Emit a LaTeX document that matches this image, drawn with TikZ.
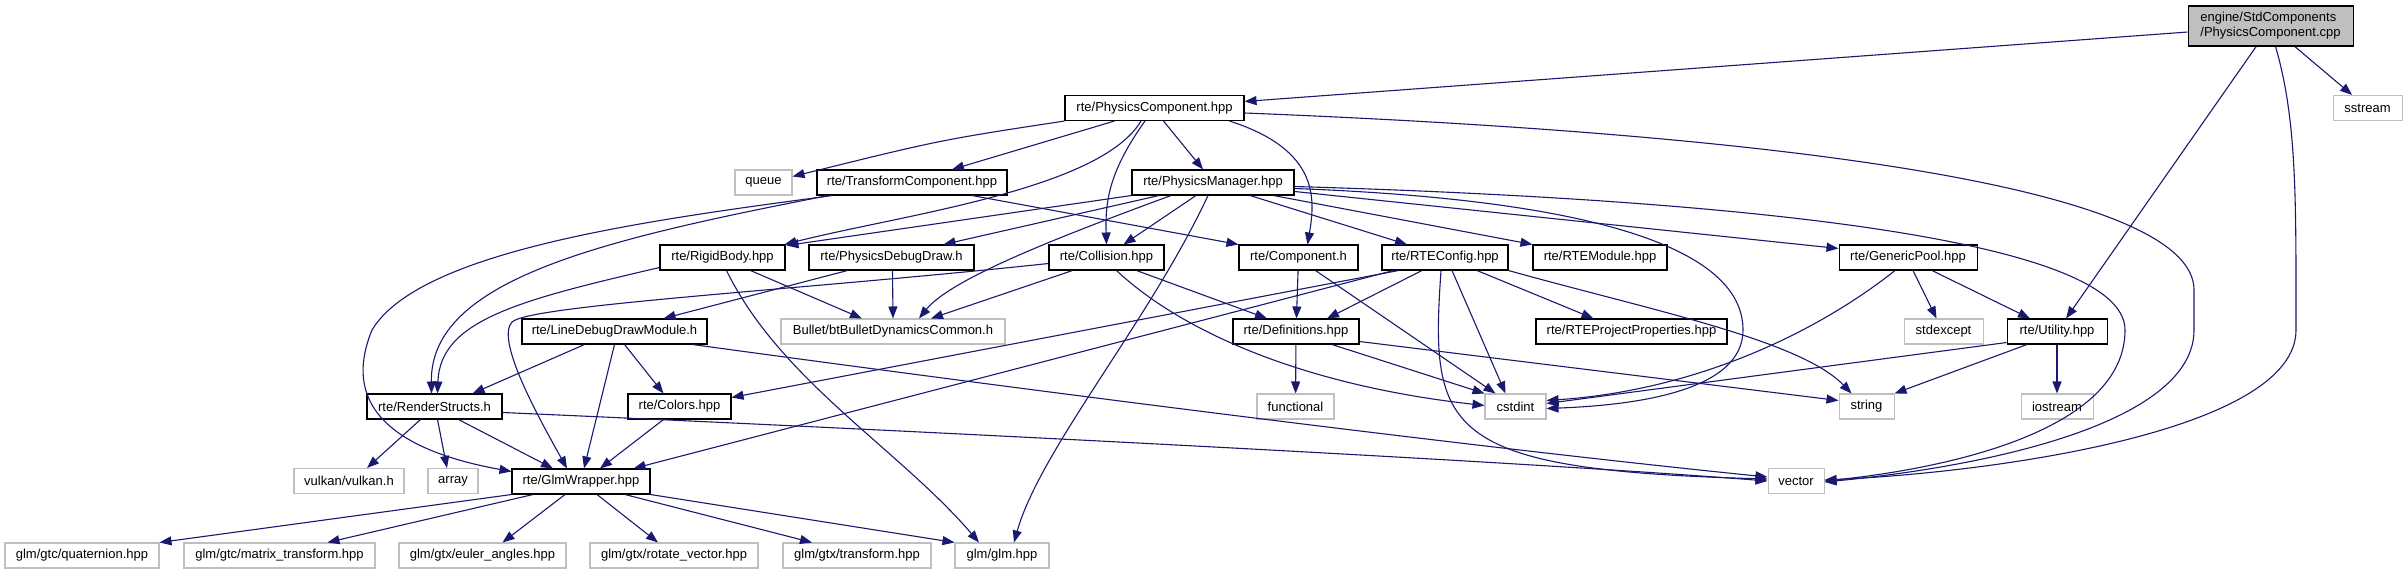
\documentclass[tikz,border=0pt]{standalone}
\usepackage{fontspec}
\setmainfont{Liberation Sans}
\usetikzlibrary{arrows.meta,calc}
\definecolor{edgecol}{RGB}{25,25,112}
\definecolor{graybox}{RGB}{191,191,191}
\begin{document}
\begin{tikzpicture}[x=1pt,y=-1pt,
 box/.style={draw=black,line width=1.05pt,fill=white,minimum height=25pt,inner sep=0pt,font=\fontsize{13}{15}\selectfont},
 ext/.style={box,draw=graybox},
 mainbox/.style={box,fill=graybox,minimum height=40pt,align=left},
 edge/.style={draw=edgecol,line width=1.1pt,-{Triangle[length=12pt,width=9pt]}}]
\fill[white] (0,0) rectangle (2408,575);
\useasboundingbox (0,0) rectangle (2408,575);
% row 0
\node[mainbox,minimum width=165pt] (main) at (2270.5,26) {engine/StdComponents\\/PhysicsComponent.cpp};
% row 1
\node[ext,minimum width=69pt] (sstream) at (2367.5,108) {sstream};
\node[box,minimum width=179pt] (pch) at (1154.5,108) {rte/PhysicsComponent.hpp};
% row 2
\node[ext,minimum width=57pt] (queue) at (763.5,182.5) {queue};
\node[box,minimum width=190pt] (tc) at (912,182.5) {rte/TransformComponent.hpp};
\node[box,minimum width=162pt] (pm) at (1213,182.5) {rte/PhysicsManager.hpp};
% row 3
\node[box,minimum width=125pt] (rb) at (722.5,257.5) {rte/RigidBody.hpp};
\node[box,minimum width=165pt] (pdd) at (891.5,257.5) {rte/PhysicsDebugDraw.h};
\node[box,minimum width=115pt] (col) at (1106.5,257.5) {rte/Collision.hpp};
\node[box,minimum width=119pt] (comp) at (1298.5,257.5) {rte/Component.h};
\node[box,minimum width=126pt] (rtec) at (1445,257.5) {rte/RTEConfig.hpp};
\node[box,minimum width=134pt] (rtem) at (1600,257.5) {rte/RTEModule.hpp};
\node[box,minimum width=138pt] (gp) at (1908,257.5) {rte/GenericPool.hpp};
% row 4
\node[box,minimum width=185pt] (ldd) at (614.5,331.5) {rte/LineDebugDrawModule.h};
\node[ext,minimum width=224pt] (bullet) at (893,331.5) {Bullet/btBulletDynamicsCommon.h};
\node[box,minimum width=126pt] (defs) at (1296,331.5) {rte/Definitions.hpp};
\node[box,minimum width=191pt] (rpp) at (1631.5,331.5) {rte/RTEProjectProperties.hpp};
\node[ext,minimum width=79pt] (stdexcept) at (1943.5,331.5) {stdexcept};
\node[box,minimum width=100pt] (util) at (2057,331.5) {rte/Utility.hpp};
% row 5
\node[box,minimum width=135pt] (rs) at (434.5,406.5) {rte/RenderStructs.h};
\node[box,minimum width=103pt] (colors) at (679.5,406.5) {rte/Colors.hpp};
\node[ext,minimum width=77pt] (functional) at (1295.5,406.5) {functional};
\node[ext,minimum width=61pt] (cstdint) at (1515.5,406.5) {cstdint};
\node[ext,minimum width=55pt] (string) at (1866.5,406.5) {string};
\node[ext,minimum width=72pt] (iostream) at (2057,406.5) {iostream};
% row 6
\node[ext,minimum width=110pt] (vulkan) at (349,481) {vulkan/vulkan.h};
\node[ext,minimum width=50pt] (array) at (453,481) {array};
\node[box,minimum width=138pt] (glmw) at (581,481.5) {rte/GlmWrapper.hpp};
\node[ext,minimum width=56pt] (vector) at (1796,481) {vector};
% row 7
\node[ext,minimum width=154pt] (quat) at (82,555.5) {glm/gtc/quaternion.hpp};
\node[ext,minimum width=191pt] (mt) at (279.5,555.5) {glm/gtc/matrix\_transform.hpp};
\node[ext,minimum width=167pt] (euler) at (482.5,555.5) {glm/gtx/euler\_angles.hpp};
\node[ext,minimum width=168pt] (rotv) at (674,555.5) {glm/gtx/rotate\_vector.hpp};
\node[ext,minimum width=148pt] (gtxt) at (857,555.5) {glm/gtx/transform.hpp};
\node[ext,minimum width=94pt] (glm) at (1002,555.5) {glm/glm.hpp};

% main
\draw[edge] (main) -- (pch);
\draw[edge] (main) -- (sstream);
\draw[edge] (main) -- (util);
\draw[edge] ([xshift=5pt]main.south) .. controls (2297,120) and (2296,200) .. (2296,330) .. controls (2296,430) and (2000,472) .. ($(vector.east)+(0,-1)$);
% pch
\draw[edge] (pch.south west) .. controls (940,140) .. ($(queue.east)+(0,-6)$);
\draw[edge] ([xshift=-40pt]pch.south) -- ([xshift=40pt]tc.north);
\draw[edge] ([xshift=-13.5pt]pch.south) .. controls (1100,190) and (900,215) .. ($(rb.north east)+(-1,0)$);
\draw[edge] ([xshift=-9.5pt]pch.south) .. controls (1110,170) and (1105,200) .. (col.north);
\draw[edge] ([xshift=9pt]pch.south) -- ([xshift=-10pt]pm.north);
\draw[edge] ([xshift=75pt]pch.south) .. controls (1320,150) and (1315,200) .. ([xshift=9pt]comp.north);
\draw[edge] ($(pch.east)+(0,5)$) .. controls (1800,135) and (2194,190) .. (2194,290) -- (2194,330) .. controls (2194,420) and (2000,465) .. ($(vector.east)+(0,1)$);
% tc
\draw[edge] ([xshift=12pt]tc.south west) .. controls (600,240) and (430,280) .. ([xshift=-3pt]rs.north);
\draw[edge] ([xshift=16pt]tc.south west) .. controls (650,220) and (420,250) .. (372,330) .. controls (335,420) and (420,455) .. ($(glmw.north west)+(0,3)$);
\draw[edge] ([xshift=60pt]tc.south) -- (comp.north west);
% pm
\draw[edge] (pm.south west) -- ($(rb.north east)+(1,1)$);
\draw[edge] ([xshift=-54pt]pm.south) -- ([xshift=52pt]pdd.north);
\draw[edge] ([xshift=-42pt]pm.south) .. controls (1050,240) and (950,280) .. ([xshift=26pt]bullet.north);
\draw[edge] ([xshift=-17pt]pm.south) -- ([xshift=17pt]col.north);
\draw[edge] ([xshift=-5pt]pm.south) .. controls (1150,320) and (1040,450) .. ([xshift=12pt]glm.north);
\draw[edge] ([xshift=37pt]pm.south) -- ([xshift=-38pt]rtec.north);
\draw[edge] ($(pm.south east)+(-21,0)$) -- (rtem.north west);
\draw[edge] ($(pm.east)+(0,9)$) -- ($(gp.north west)+(0,4)$);
\draw[edge] ($(pm.east)+(0,6)$) .. controls (1600,200) and (1743,250) .. (1743,330) .. controls (1743,390) and (1640,405) .. ($(cstdint.east)+(0,2)$);
\draw[edge] ($(pm.east)+(0,4)$) .. controls (1750,200) and (2125,240) .. (2125,330) .. controls (2125,430) and (1950,468) .. (vector.east);
% rb
\draw[edge] ($(rb.south west)+(0,-3)$) .. controls (520,300) and (440,320) .. ([xshift=3pt]rs.north);
\draw[edge] ([xshift=28pt]rb.south) -- ([xshift=-31pt]bullet.north);
\draw[edge] ([xshift=4pt]rb.south) .. controls (780,380) and (900,450) .. ([xshift=-23pt]glm.north);
% pdd
\draw[edge] ([xshift=1pt]pdd.south) -- (bullet.north);
\draw[edge] ([xshift=-44pt]pdd.south) -- ([xshift=49pt]ldd.north);
% col
\draw[edge] ([xshift=-34pt]col.south) -- ([xshift=38pt]bullet.north);
\draw[edge] ([xshift=30pt]col.south) -- ([xshift=-29pt]defs.north);
\draw[edge] ([xshift=10pt]col.south) .. controls (1180,330) and (1300,385) .. ($(cstdint.west)+(0,-1)$);
\draw[edge] ($(col.west)+(0,6)$) .. controls (800,290) and (530,305) .. (512,322) .. controls (495,340) and (540,420) .. ([xshift=-14pt]glmw.north);
% comp
\draw[edge] (comp) -- (defs);
\draw[edge] ([xshift=17pt]comp.south) -- ([xshift=-20pt]cstdint.north);
% rtec
\draw[edge] ($(rtec.south west)+(17,0)$) -- ($(colors.east)+(0,-9)$);
\draw[edge] ($(rtec.south west)+(12,0)$) -- ($(glmw.north east)+(-17,0)$);
\draw[edge] ([xshift=-23pt]rtec.south) -- ([xshift=31pt]defs.north);
\draw[edge] ([xshift=7pt]rtec.south) -- ([xshift=-10pt]cstdint.north);
\draw[edge] ([xshift=32pt]rtec.south) -- ([xshift=-38pt]rpp.north);
\draw[edge] (rtec.south east) .. controls (1650,310) and (1800,340) .. ([xshift=-15pt]string.north);
\draw[edge] ([xshift=-4pt]rtec.south) .. controls (1430,430) and (1440,470) .. ($(vector.west)+(0,-2)$);
% gp
\draw[edge] ([xshift=5pt]gp.south) -- ([xshift=-7pt]stdexcept.north);
\draw[edge] ([xshift=24pt]gp.south) -- ([xshift=-27pt]util.north);
\draw[edge] ([xshift=-13pt]gp.south) .. controls (1820,330) and (1700,390) .. ($(cstdint.east)+(0,-6)$);
% util
\draw[edge] ($(util.south west)+(0,-2)$) -- ($(cstdint.east)+(0,-3)$);
\draw[edge] ([xshift=-30pt]util.south) -- (string.north east);
\draw[edge] (util) -- (iostream);
% defs
\draw[edge] (defs) -- (functional);
\draw[edge] ([xshift=36pt]defs.south) -- (cstdint.north west);
\draw[edge] ($(defs.east)+(0,10)$) -- ($(string.west)+(0,-6)$);
% ldd
\draw[edge] ([xshift=-30pt]ldd.south) -- ([xshift=38pt]rs.north);
\draw[edge] (ldd.south) -- ([xshift=3pt]glmw.north);
\draw[edge] ([xshift=10pt]ldd.south) -- ([xshift=-16pt]colors.north);
\draw[edge] ($(ldd.south east)+(-15,0)$) .. controls (1100,400) and (1500,450) .. ($(vector.west)+(0,-4)$);
% rs
\draw[edge] ([xshift=-14pt]rs.south) -- ([xshift=18pt]vulkan.north);
\draw[edge] ([xshift=3pt]rs.south) -- ([xshift=-6pt]array.north);
\draw[edge] ([xshift=24pt]rs.south) -- ([xshift=-28pt]glmw.north);
\draw[edge] ($(rs.east)+(0,6)$) .. controls (900,430) and (1500,460) .. (vector.west);
% colors
\draw[edge] ([xshift=-16pt]colors.south) -- ([xshift=19pt]glmw.north);
% glmw
\draw[edge] (glmw.south west) -- (quat.north east);
\draw[edge] ([xshift=-48pt]glmw.south) -- ([xshift=48pt]mt.north);
\draw[edge] ([xshift=-16pt]glmw.south) -- ([xshift=20pt]euler.north);
\draw[edge] ([xshift=16pt]glmw.south) -- ([xshift=-16pt]rotv.north);
\draw[edge] ([xshift=44pt]glmw.south) -- ([xshift=-45pt]gtxt.north);
\draw[edge] (glmw.south east) -- (glm.north west);
\end{tikzpicture}
\end{document}
